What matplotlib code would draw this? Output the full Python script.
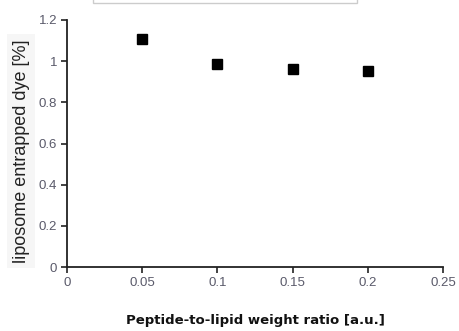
import matplotlib
matplotlib.use("Agg")
import matplotlib.pyplot as plt
from matplotlib.patches import Rectangle

ratio = [0.05, 0.10, 0.15, 0.20]
entrapped = [1.108, 0.985, 0.960, 0.952]
xticks = [0, 0.05, 0.1, 0.15, 0.2, 0.25]
xticklabels = ["0", "0.05", "0.1", "0.15", "0.2", "0.25"]
yticks = [0, 0.2, 0.4, 0.6, 0.8, 1.0, 1.2]
yticklabels = ["0", "0.2", "0.4", "0.6", "0.8", "1", "1.2"]

fig = plt.figure(figsize=(4.59, 3.31), dpi=100)
ax = fig.add_axes([67/459, 1-267/331, (443-67)/459, (267-20)/331])

ax.plot(ratio, entrapped, linestyle="none", marker="s", markersize=7,
        color="black", clip_on=False)

ax.set_xlim(0, 0.25)
ax.set_ylim(0, 1.2)
ax.set_xticks(xticks)
ax.set_xticklabels(xticklabels)
ax.set_yticks(yticks)
ax.set_yticklabels(yticklabels)

for s in ["top", "right"]:
    ax.spines[s].set_visible(False)
for s in ["left", "bottom"]:
    ax.spines[s].set_linewidth(1.3)
    ax.spines[s].set_color("#222222")

ax.tick_params(direction="out", length=4, width=1.2, color="#222222",
               labelsize=9.5, labelcolor="#5a5a6a", pad=3)
for lbl in ax.get_xticklabels() + ax.get_yticklabels():
    lbl.set_family("Liberation Sans")

ax.set_ylabel("liposome entrapped dye [%]", family="Liberation Sans",
              fontsize=13, color="#222222",
              bbox=dict(facecolor="#f6f6f6", edgecolor="none", pad=4))
ax.yaxis.set_label_coords(-0.099, 0.47)
ax.set_xlabel("Peptide-to-lipid weight ratio [a.u.]", family="DejaVu Sans",
              fontweight="bold", fontsize=9.5, color="#111111", labelpad=18)

fig.patches.append(Rectangle((93/459, 1-3/331), (357-93)/459, 0.05,
                             transform=fig.transFigure, facecolor="white",
                             edgecolor="#cccccc", linewidth=1.0))

fig.savefig("out.png", dpi=100)
